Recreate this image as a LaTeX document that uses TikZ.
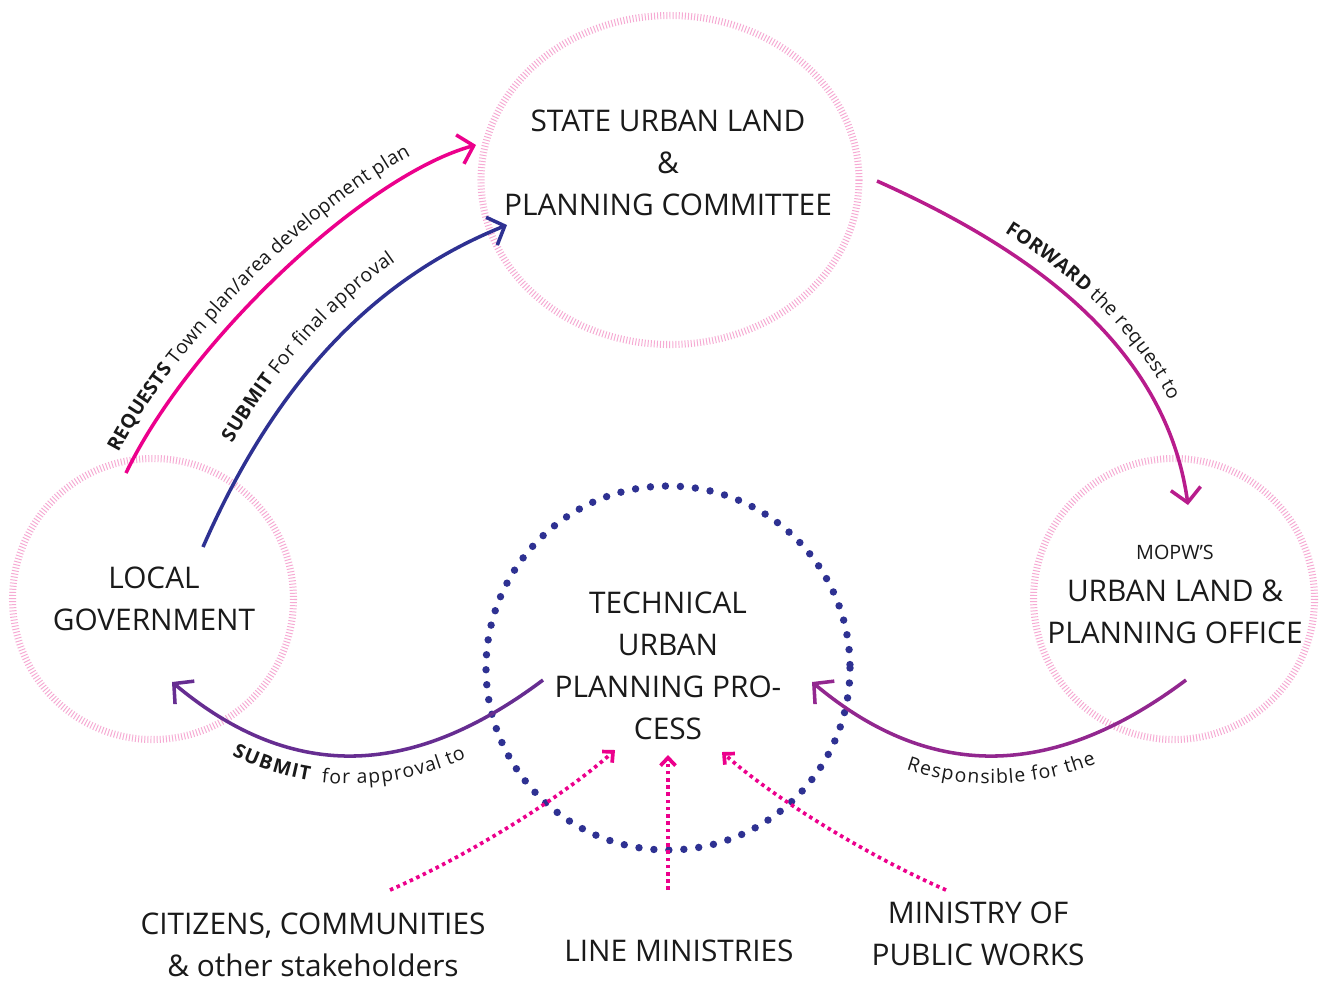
\documentclass[tikz,border=0pt]{standalone}
\usepackage{fontspec}
\setmainfont{Open Sans}
\usetikzlibrary{arrows.meta,decorations.text}
\definecolor{ringpink}{HTML}{F6AAD3}
\definecolor{hotpink}{HTML}{EC008C}
\definecolor{navy}{HTML}{2E3192}
\definecolor{magenta}{HTML}{B81C8C}
\definecolor{purpleA}{HTML}{662D91}
\definecolor{purpleB}{HTML}{92278F}
\definecolor{txt}{HTML}{1A1A1A}
\newcommand\mainf{\fontsize{16.9}{23.8}\selectfont}
\newcommand\smallf{\fontsize{11.2}{13}\selectfont}
\newcommand\lblf{\fontsize{11}{14}\selectfont\mdseries}
\newcommand\lblb{\fontsize{11}{14}\selectfont\bfseries}
\tikzset{
  ring/.style={draw=ringpink, line width=4pt, dash pattern=on 0.55pt off 1.2pt},
  dotring/.style={draw=navy, line width=4.2pt, line cap=round, dash pattern=on 0pt off 8.505pt},
  maintext/.style={font=\mainf, align=center, inner sep=0pt, text=txt},
  solidarrow/.style={line width=2pt, -{Straight Barb[length=8pt,width=17pt]}},
  solidback/.style={line width=2pt, {Straight Barb[length=8pt,width=17pt]}-},
  dotarrow/.style={draw=hotpink, line width=2.1pt, dash pattern=on 2pt off 2.1pt,
     -{Straight Barb[length=4.5pt,width=8.5pt]}},
  lbl/.style={decorate, decoration={text along path, text color=txt, raise=#1}},
}
\begin{document}
\begin{tikzpicture}[x=0.5669pt,y=-0.5669pt]
\useasboundingbox[fill=white] (0,0) rectangle (1322,981);

% circles
\draw[ring] (670,180) ellipse [x radius=189, y radius=164.5];
\draw[ring] (153,599) circle (140.5);
\draw[ring] (1174,599) circle (140.5);
\draw[dotring] (668,668) circle (182);

% texts
\node[maintext] (sulpc) at (668,163) {STATE URBAN LAND\\\&\\PLANNING COMMITTEE};
\node[maintext] (lg) at (154,599) {LOCAL\\GOVERNMENT};
\node[maintext, font=\smallf] (mopw) at (1175,552) {MOPW’S};
\node[maintext] (ulpo) at (1175,611.5) {URBAN LAND \&\\PLANNING OFFICE};
\node[maintext] (tupp) at (668,665.5) {TECHNICAL\\URBAN\\PLANNING PRO-\\CESS};
\node[maintext] (cit) at (313,944.5) {CITIZENS, COMMUNITIES\\\& other stakeholders};
\node[maintext] (lm) at (679,951) {LINE MINISTRIES};
\node[maintext] (mpw) at (978,933.5) {MINISTRY OF\\PUBLIC WORKS};

% endpoints
\coordinate (rqS) at (126,473);
\coordinate (rqE) at (476,145);
\coordinate (sbS) at (203,547);
\coordinate (sbE) at (507,225);
\coordinate (fwS) at (877,181);
\coordinate (fwE) at (1188,505);
\coordinate (saL) at (172,682);
\coordinate (saR) at (543,680);
\coordinate (rsL) at (812,682);
\coordinate (rsR) at (1186,680);
\coordinate (d1S) at (390,890);
\coordinate (d1E) at (615,750);
\coordinate (d2S) at (668,890);
\coordinate (d2E) at (668,755);
\coordinate (d3S) at (946,890);
\coordinate (d3E) at (722,752);

% REQUESTS
\draw[solidarrow, hotpink] (rqS) .. controls (190,340) and (366,175) .. (rqE);
\path[lbl=9pt, decoration={text align={left indent=8pt},
  text={|\lblb|REQUESTS |\lblf|Town plan/area development plan}}]
  (rqS) .. controls (190,340) and (366,175) .. (rqE);

% SUBMIT final
\draw[solidarrow, navy] (sbS) .. controls (273,387) and (370,280) .. (sbE);
\path[lbl=12pt, decoration={text align={left indent=59pt},
  text={|\lblb|SUBMIT |\lblf|For final approval}}]
  (sbS) .. controls (273,387) and (370,280) .. (sbE);

% FORWARD
\draw[solidarrow, magenta] (fwS) .. controls (1020,245) and (1165,340) .. (fwE);
\path[lbl=8pt, decoration={text align={left indent=77pt},
  text={|\lblb|FORWARD |\lblf|the request to}}]
  (fwS) .. controls (1020,245) and (1165,340) .. (fwE);

% SUBMIT for approval to
\draw[solidback, purpleA] (saL) .. controls (295,785) and (415,776) .. (saR);
\path[lbl=-16pt, decoration={text align={left indent=49pt},
  text={|\lblb|SUBMIT |\lblf| for approval to}}]
  (saL) .. controls (295,785) and (415,776) .. (saR);

% Responsible for the
\draw[solidback, purpleB] (rsL) .. controls (935,785) and (1058,776) .. (rsR);
\path[lbl=-16pt, decoration={text align={left indent=68pt},
  text={|\lblf|Responsible for the}}]
  (rsL) .. controls (935,785) and (1058,776) .. (rsR);

% dotted arrows
\draw[dotarrow] (d1S) .. controls (470,855) and (565,795) .. (d1E);
\draw[dotarrow] (d2S) -- (d2E);
\draw[dotarrow] (d3S) .. controls (866,855) and (772,797) .. (d3E);
\end{tikzpicture}
\end{document}
